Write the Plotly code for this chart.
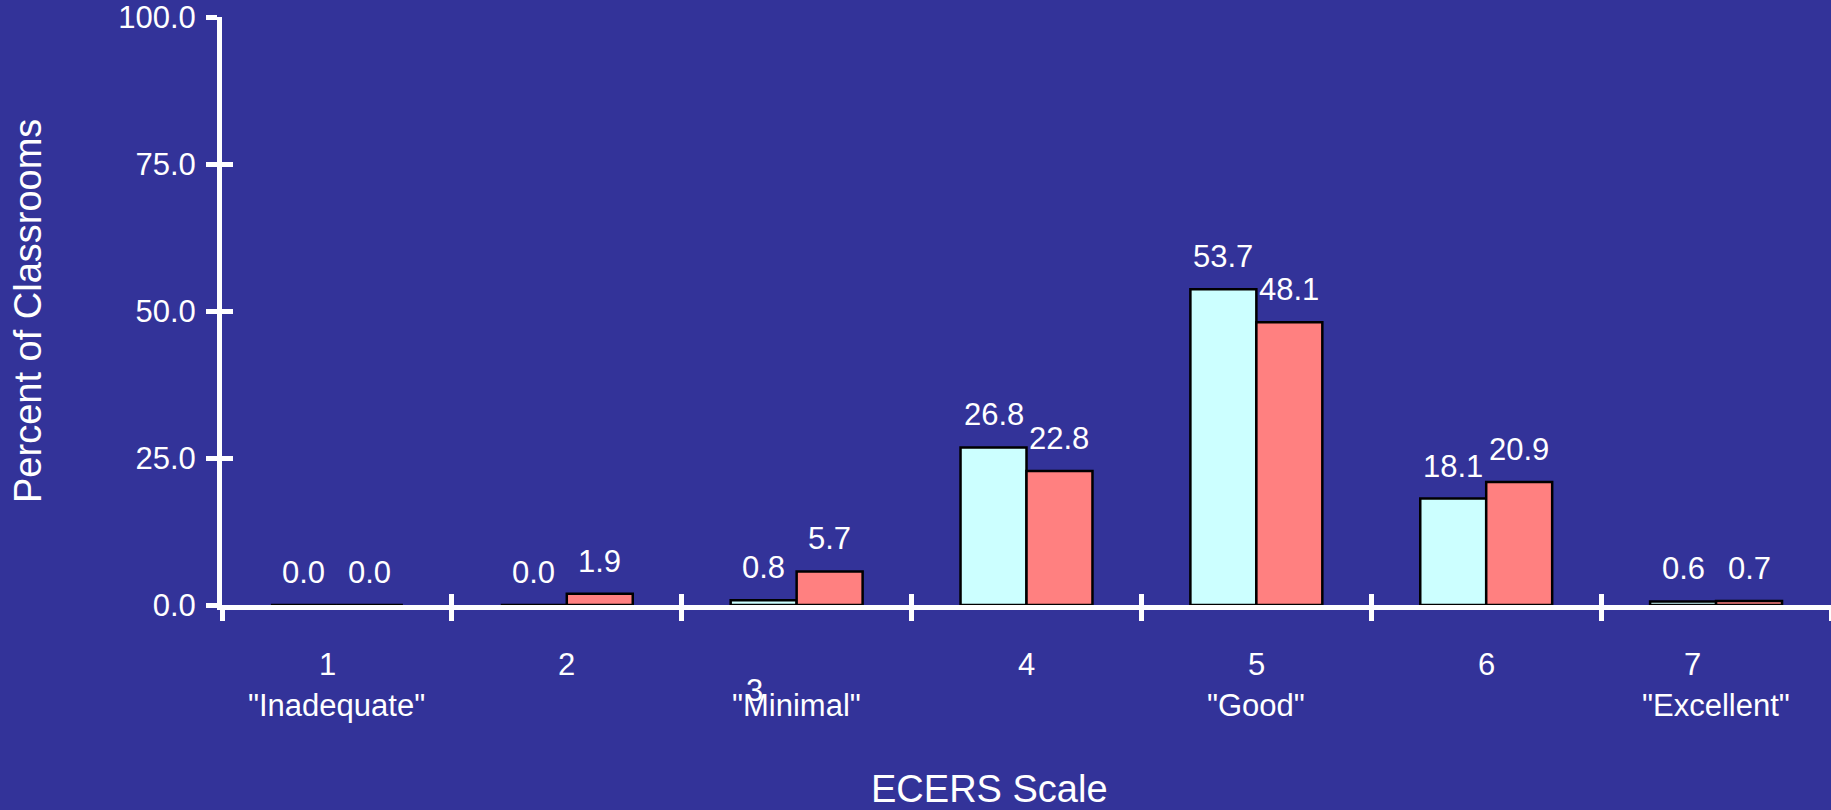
import plotly.graph_objects as go

# ---- data ----
categories = [1, 2, 3, 4, 5, 6, 7]
tick_numbers = ["1", "2", "3", "4", "5", "6", "7"]
tick_descriptions = ['"Inadequate"', "", '"Minimal"', "", '"Good"', "", '"Excellent"']
series_a = [0.0, 0.0, 0.8, 26.8, 53.7, 18.1, 0.6]
series_b = [0.0, 1.9, 5.7, 22.8, 48.1, 20.9, 0.7]
y_ticks = [0, 25, 50, 75, 100]
x_title = "ECERS Scale"
y_title = "Percent of Classrooms"

# ---- style ----
BG = "#333399"
FONT = "Arial, Liberation Sans, sans-serif"
W = 0.287
SMALL = 31
BIG = 38

fig = go.Figure()
fig.add_bar(x=categories, y=series_a, width=W, offset=-W, name="Series A",
            marker=dict(color="#CCFFFF", line=dict(color="black", width=2.5)),
            showlegend=False, hoverinfo="skip")
fig.add_bar(x=categories, y=series_b, width=W, offset=0, name="Series B",
            marker=dict(color="#FF8080", line=dict(color="black", width=2.5)),
            showlegend=False, hoverinfo="skip")
# empty helper traces so the overlaid axes (inner tick halves) are drawn
fig.add_scatter(x=[None], y=[None], xaxis="x2", yaxis="y", showlegend=False, hoverinfo="skip")
fig.add_scatter(x=[None], y=[None], xaxis="x", yaxis="y2", showlegend=False, hoverinfo="skip")

# value labels above bars
for vals, off in ((series_a, -W / 2), (series_b, W / 2)):
    for c, v in zip(categories, vals):
        fig.add_annotation(x=c + off, y=v, xref="x", yref="y", text=f"{v:.1f}",
                           showarrow=False, yanchor="bottom", yshift=13,
                           font=dict(size=SMALL, color="white", family=FONT))

# category labels (numbers + descriptions)
num_nudge = {1: -9, 3: -42, 7: -24}
num_drop = {3: -85}
for c, num, desc in zip(categories, tick_numbers, tick_descriptions):
    fig.add_annotation(x=c, xref="x", y=0, yref="paper", text=num, showarrow=False,
                       xanchor="center", yanchor="middle",
                       xshift=num_nudge.get(c, 0), yshift=num_drop.get(c, -59),
                       font=dict(size=SMALL, color="white", family=FONT))
    if desc:
        fig.add_annotation(x=c, xref="x", y=0, yref="paper", text=desc, showarrow=False,
                           xanchor="center", yanchor="middle", yshift=-100,
                           font=dict(size=SMALL, color="white", family=FONT))

# axis titles
fig.add_annotation(x=0, xref="paper", y=0.5, yref="paper", text=y_title, textangle=-90,
                   showarrow=False, xanchor="center", yanchor="middle", xshift=-194,
                   font=dict(size=BIG, color="white", family=FONT))
fig.add_annotation(x=0, xref="paper", y=0, yref="paper", text=x_title,
                   showarrow=False, xanchor="center", yanchor="middle",
                   xshift=767, yshift=-184,
                   font=dict(size=BIG, color="white", family=FONT))

bounds = [c - 0.5 for c in categories] + [categories[-1] + 0.5]
xr = [bounds[0], bounds[-1]]

common_x = dict(range=xr, tickvals=bounds, showticklabels=False, showgrid=False,
                zeroline=False, ticklen=11, tickwidth=5, tickcolor="white", fixedrange=True)
common_y = dict(range=[0, 100], tickvals=y_ticks, showgrid=False, zeroline=False,
                ticklen=11, tickwidth=5, tickcolor="white", fixedrange=True)

fig.update_layout(
    width=1831, height=810, autosize=False,
    paper_bgcolor=BG, plot_bgcolor=BG,
    margin=dict(l=222, r=0, t=17, b=205, pad=0),
    barmode="overlay",
    showlegend=False,
    font=dict(family=FONT, color="white", size=SMALL),
    xaxis=dict(**common_x, ticks="outside", showline=True, linecolor="white", linewidth=5),
    xaxis2=dict(**common_x, ticks="inside", overlaying="x", anchor="y", side="bottom",
                showline=False),
    yaxis=dict(**common_y, ticks="outside", showline=True, linecolor="white", linewidth=5,
               tickformat=".1f", ticklabeloverflow="allow", ticklabelstandoff=4,
               tickfont=dict(size=SMALL, color="white", family=FONT)),
    yaxis2=dict(**common_y, ticks="inside", overlaying="y", anchor="x", side="left",
                showline=False, showticklabels=False),
)

fig.write_html(
    "out.html",
    config={"displayModeBar": False},
    post_script="document.body.style.margin='0';document.body.style.padding='0';"
                "document.body.style.background='" + BG + "';"
                "document.body.style.overflow='hidden';",
)
